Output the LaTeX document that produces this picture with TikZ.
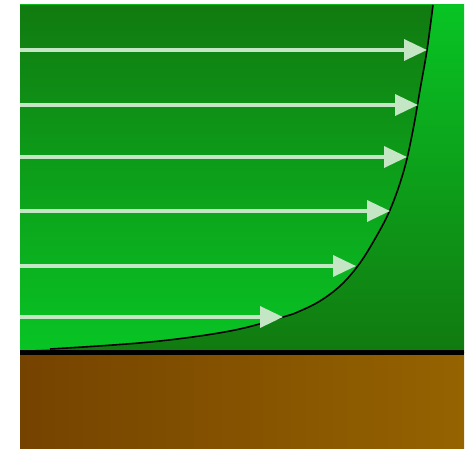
\documentclass[tikz,border=0pt]{standalone}
\usepackage{xcolor}
\usepackage{tikz}
\usetikzlibrary{arrows.meta}
\definecolor{flowdark}{RGB}{17,122,16}
\definecolor{flowbright}{RGB}{8,196,36}
\definecolor{soilleft}{RGB}{117,67,0}
\definecolor{soilright}{RGB}{149,99,0}
\definecolor{streak}{RGB}{196,230,196}
\tikzset{
  inner/.style={top color=flowdark, bottom color=flowbright},
  outer/.style={top color=flowbright, bottom color=flowdark},
  soil/.style={left color=soilleft, right color=soilright},
  wall/.style={draw=black, line width=5*0.02cm},
  profile/.style={draw=black, line width=0.9pt},
  flowarrow/.style={draw=streak, line width=3.5*0.02cm,
                    -{Triangle[length=23*0.02cm, width=21*0.02cm]}},
}
\begin{document}
\begin{tikzpicture}[x=0.02cm, y=-0.02cm]
\useasboundingbox (0,0) rectangle (466,449);
% ground and fluid
\shade[soil] (20,352) rectangle (464,448);
\shade[outer] (20,5) rectangle (464,352);
\shade[inner] (20,5) -- (20,350) -- plot[smooth, tension=0.6] coordinates
  {(20,350) (50,349) (150,342) (230,331) (283,317) (300,311) (320,301) (340,286)
   (357,267) (372,244) (390,210) (404,170) (413,130) (420,90) (427,50) (433,5)}
  -- cycle;
% velocity profile
\draw[profile] plot[smooth, tension=0.6] coordinates
  {(50,349) (150,342) (230,331) (283,317) (300,311) (320,301) (340,286)
   (357,267) (372,244) (390,210) (404,170) (413,130) (420,90) (427,50) (433,5)};
% streaks
\foreach \y/\x in {50/427,105/418,157/407,211/390,266/356,317/283}
  \draw[flowarrow] (20,\y) -- (\x,\y);
% wall
\draw[wall] (20,352.5) -- (464,352.5);
\end{tikzpicture}
\end{document}
